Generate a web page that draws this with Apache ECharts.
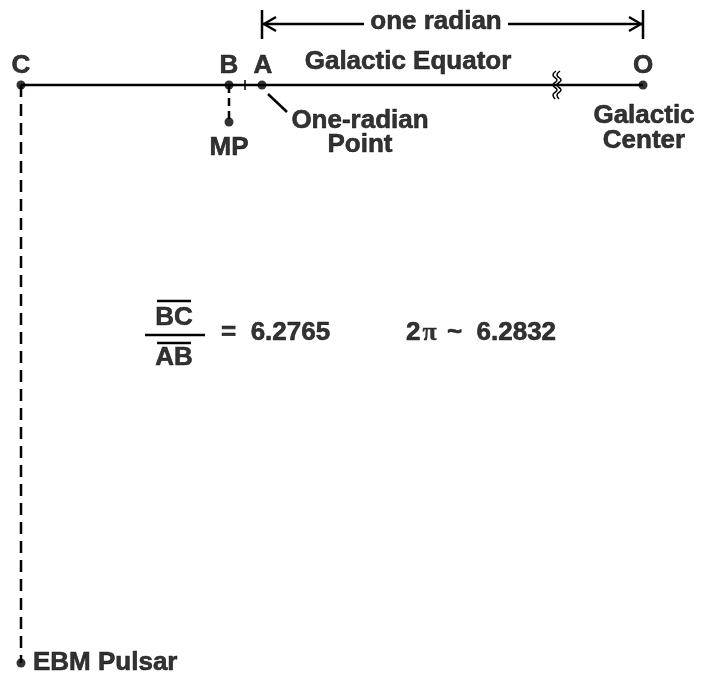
<!DOCTYPE html>
<html>
<head>
<meta charset="utf-8">
<script src="https://cdn.jsdelivr.net/npm/echarts@6/dist/echarts.min.js"></script>
<style>
  html, body { margin: 0; padding: 0; background: #fff; }
  #chart { width: 702px; height: 679px; }
</style>
</head>
<body>
<div id="chart"></div>
<script>
// points on the diagram (x along galactic equator, y downward)
const pointNames = ["C", "B", "A", "O", "MP", "EBM Pulsar"];
const pointX = [21, 229, 262, 643, 229, 21];
const pointY = [85, 85, 85, 85, 122, 663];

const ratioValue = "6.2765";
const twoPiValue = "6.2832";

const FONT = "'Liberation Sans', Arial, Helvetica, sans-serif";
const FS = 26;

function P(name) {
  var i = pointNames.indexOf(name);
  return [pointX[i], pointY[i]];
}

// line segments helper
function seg(pts, opt) {
  opt = opt || {};
  return {
    type: "line",
    data: pts,
    symbol: "none",
    silent: true,
    smooth: opt.smooth || false,
    animation: false,
    lineStyle: {
      color: "#000",
      width: opt.width || 2.5,
      type: opt.dash || "solid",
    },
    z: 2,
  };
}

// text label helper
function txt(x, y, text, align, extra) {
  var lbl = {
    show: true,
    position: "inside",
    formatter: text,
    align: align || "center",
    verticalAlign: "middle",
    color: "#000",
    textBorderColor: "#000",
    textBorderWidth: 0.6,
    fontFamily: FONT,
    fontWeight: "bold",
    fontSize: FS,
    lineHeight: 26,
  };
  if (extra) Object.assign(lbl, extra);
  return { value: [x, y], label: lbl };
}

var series = [
  // galactic equator
  seg([P("C"), P("O")], { width: 2.5 }),
  // tick between B and A
  seg([[245, 80], [245, 90]], { width: 1.5 }),
  // break marks
  seg([[556, 71], [553, 75], [557, 80], [553, 85], [557, 90], [553, 95], [555, 99]], { width: 1.5, smooth: true }),
  seg([[560, 71], [557, 75], [561, 80], [557, 85], [561, 90], [557, 95], [559, 99]], { width: 1.5, smooth: true }),
  // dashed lines
  seg([P("C"), P("EBM Pulsar")], { dash: [12, 7] }),
  seg([P("B"), P("MP")], { dash: [8, 5] }),
  // one-radian leader
  seg([[268, 94], [287, 112]], { width: 2.5 }),
  // one radian bracket
  seg([[P("A")[0], 10], [P("A")[0], 39]]),
  seg([[P("O")[0], 10], [P("O")[0], 39]]),
  seg([[P("A")[0], 24], [364, 24]]),
  seg([[508, 24], [P("O")[0], 24]]),
  seg([[276, 17], [264, 24], [276, 31]]),
  seg([[629, 17], [641, 24], [629, 31]]),
  // fraction
  seg([[157, 301], [191, 301]]),
  seg([[145, 335], [205, 335]]),
  seg([[157, 343], [191, 343]]),
  // points
  {
    type: "scatter",
    data: pointNames.map(function (n, i) { return [pointX[i], pointY[i]]; }),
    symbolSize: 9,
    itemStyle: { color: "#000" },
    silent: true,
    animation: false,
    z: 5,
  },
  // texts
  {
    type: "scatter",
    symbolSize: 1,
    itemStyle: { color: "rgba(0,0,0,0)" },
    silent: true,
    animation: false,
    z: 6,
    data: [
      txt(P("C")[0], 66, "C"),
      txt(P("B")[0], 66, "B"),
      txt(P("A")[0] + 1, 66, "A"),
      txt(P("O")[0], 66, "O"),
      txt(408, 62, "Galactic Equator"),
      txt(436, 22, "one radian"),
      txt(P("MP")[0], 148, "MP"),
      txt(360, 121, "One-radian"),
      txt(360, 145, "Point"),
      txt(644, 116, "Galactic"),
      txt(644, 141, "Center"),
      txt(33, 663, "EBM Pulsar", "left"),
      txt(174, 318, "BC"),
      txt(174, 358, "AB"),
      txt(221, 333, "=  " + ratioValue, "left"),
      txt(406, 333, "{a|2}{p|\u03c0}{a| ~  " + twoPiValue + "}", "left", {
        rich: {
          a: { fontFamily: FONT, fontWeight: "bold", fontSize: FS, color: "#000", textBorderColor: "#000", textBorderWidth: 0.6 },
          p: { fontFamily: "'Liberation Serif', 'DejaVu Serif', serif", fontSize: 26, color: "#000", textBorderColor: "#000", textBorderWidth: 0.3, padding: [0, 3, 0, 2] },
        },
      }),
    ],
  },
];

var myChart = echarts.init(document.getElementById("chart"));
myChart.setOption({
  backgroundColor: "#fff",
  animation: false,
  grid: { left: 0, right: 0, top: 0, bottom: 0 },
  xAxis: { type: "value", min: 0, max: 702, show: false },
  yAxis: { type: "value", min: 0, max: 679, inverse: true, show: false },
  series: series,
});
</script>
</body>
</html>
